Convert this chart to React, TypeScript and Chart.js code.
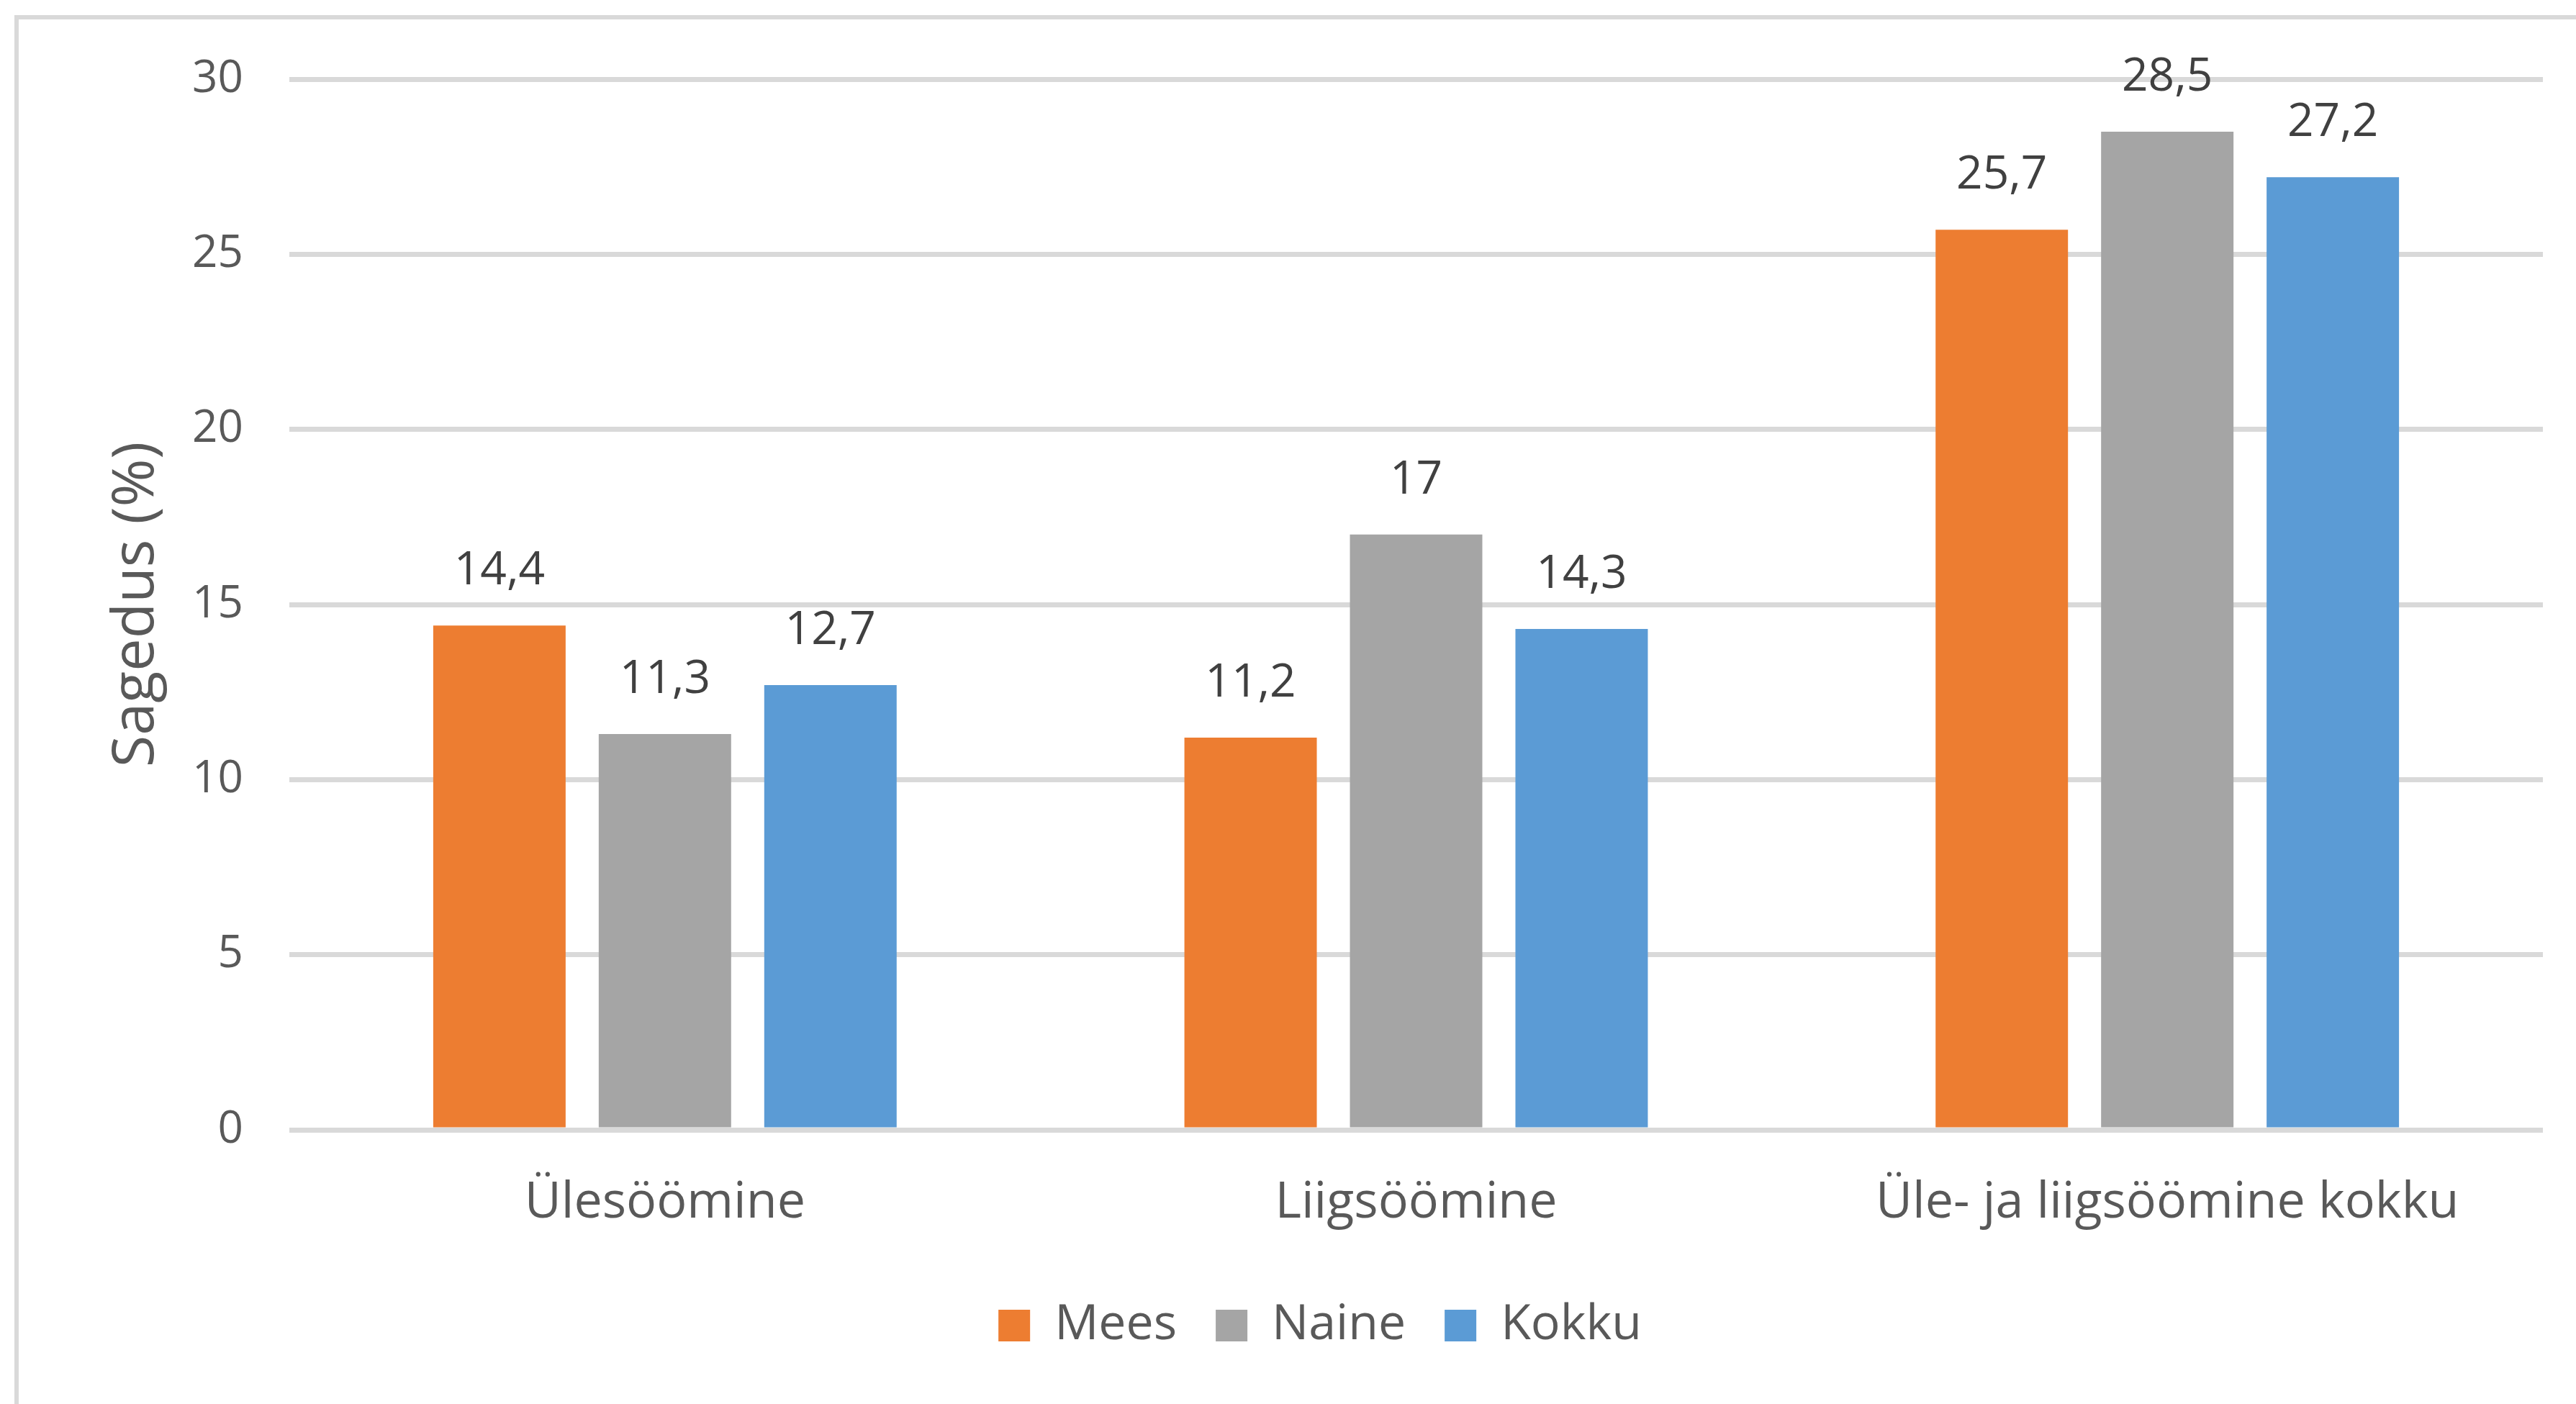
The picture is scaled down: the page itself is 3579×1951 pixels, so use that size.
import React, { useEffect, useRef } from "react";
import { Chart, registerables } from "chart.js";

Chart.register(...registerables);

const categories = ["Ülesöömine", "Liigsöömine", "Üle- ja liigsöömine kokku"];
const seriesNames = ["Mees", "Naine", "Kokku"];
const meesValues = [14.4, 11.2, 25.7];
const naineValues = [11.3, 17, 28.5];
const kokkuValues = [12.7, 14.3, 27.2];
const seriesColors = ["#ED7D31", "#A5A5A5", "#5B9BD5"];
const yTicks = [0, 5, 10, 15, 20, 25, 30];
const yTitle = "Sagedus (%)";

const FONT = "'Open Sans', 'Noto Sans', sans-serif";
const CANVAS_W = 3579;
const CANVAS_H = 1951;
const PAD_LEFT = 135;

const fmt = (v: number) => String(v).replace(".", ",");

export default function App() {
  const ref = useRef<HTMLCanvasElement | null>(null);

  useEffect(() => {
    document.body.style.margin = "0";
    document.body.style.overflow = "hidden";
    const canvas = ref.current;
    if (!canvas) return;

    const borderPlugin = {
      id: "outerBorder",
      beforeDraw(chart: any) {
        const ctx = chart.ctx;
        ctx.save();
        ctx.fillStyle = "#ffffff";
        ctx.fillRect(0, 0, chart.width, chart.height);
        ctx.strokeStyle = "#D9D9D9";
        ctx.lineWidth = 6;
        ctx.strokeRect(23, 24, chart.width + 200, chart.height + 200);
        ctx.restore();
      },
    };

    const labelPlugin = {
      id: "valueLabels",
      afterDatasetsDraw(chart: any) {
        const ctx = chart.ctx;
        ctx.save();
        ctx.font = `64px ${FONT}`;
        ctx.fillStyle = "#404040";
        ctx.textAlign = "center";
        ctx.textBaseline = "alphabetic";
        chart.data.datasets.forEach((ds: any, di: number) => {
          const meta = chart.getDatasetMeta(di);
          meta.data.forEach((bar: any, i: number) => {
            ctx.fillText(fmt(ds.data[i]), bar.x, bar.y - 57);
          });
        });
        ctx.restore();
      },
    };

    const chart = new Chart(canvas, {
      type: "bar",
      data: {
        labels: categories,
        datasets: [
          { label: seriesNames[0], data: meesValues, backgroundColor: seriesColors[0] },
          { label: seriesNames[1], data: naineValues, backgroundColor: seriesColors[1] },
          { label: seriesNames[2], data: kokkuValues, backgroundColor: seriesColors[2] },
        ],
      },
      options: {
        responsive: false,
        animation: false,
        devicePixelRatio: 1,
        datasets: {
          bar: { barPercentage: 0.8, categoryPercentage: 0.661 },
        },
        layout: { padding: { left: PAD_LEFT, right: CANVAS_W - 3533, top: 110, bottom: 65 } },
        plugins: {
          legend: {
            position: "bottom",
            labels: {
              boxWidth: 44,
              boxHeight: 44,
              padding: 54,
              color: "#595959",
              font: { family: FONT, size: 68 },
            },
          },
          tooltip: { enabled: false },
        },
        scales: {
          x: {
            grid: { display: false },
            border: { display: false },
            afterFit(scale: any) {
              scale.height = 184;
            },
            ticks: {
              color: "#595959",
              font: { family: FONT, size: 70 },
              padding: 52,
              maxRotation: 0,
            },
          },
          y: {
            min: 0,
            max: 30,
            afterBuildTicks(scale: any) {
              scale.ticks = yTicks.map((v) => ({ value: v }));
            },
            afterFit(scale: any) {
              scale.width = 402 - PAD_LEFT;
            },
            grid: { color: "#D9D9D9", lineWidth: 7, drawTicks: false },
            border: { display: false },
            ticks: {
              color: "#595959",
              font: { family: FONT, size: 62 },
              padding: 64,
            },
            title: {
              display: true,
              text: yTitle,
              color: "#595959",
              font: { family: FONT, size: 81 },
              padding: { top: 6, bottom: 0 },
            },
          },
        },
      },
      plugins: [borderPlugin, labelPlugin],
    });

    return () => chart.destroy();
  }, []);

  return (
    <div style={{ width: CANVAS_W, height: CANVAS_H, overflow: "hidden", position: "relative" }}>
      <canvas
        ref={ref}
        width={CANVAS_W}
        height={CANVAS_H}
        style={{ width: CANVAS_W, height: CANVAS_H, display: "block" }}
      />
    </div>
  );
}
